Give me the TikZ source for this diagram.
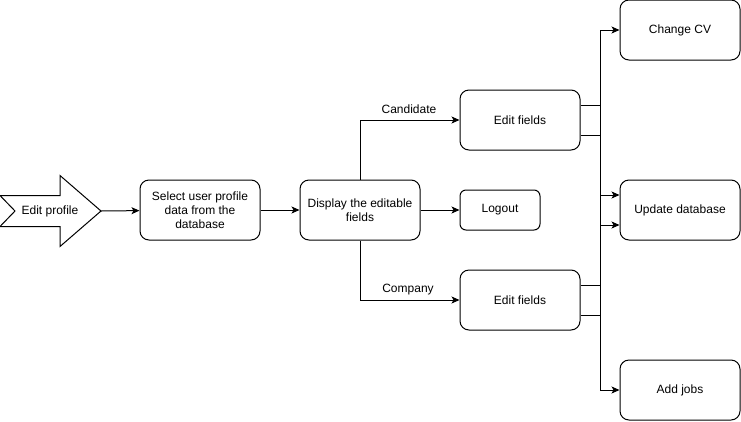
\documentclass[tikz,border=0pt]{standalone}
\usepackage{fontspec}
\setmainfont{Liberation Sans}
\usetikzlibrary{arrows.meta}
\begin{document}
\begin{tikzpicture}[x=1pt,y=-1pt,
  box/.style={draw,line width=1pt,rounded corners=9pt,align=center,font=\fontsize{12}{14}\selectfont,inner sep=0pt},
  lbl/.style={font=\fontsize{12}{14}\selectfont,inner sep=0pt},
  conn/.style={line width=1pt,-{Stealth[length=8pt,width=7pt,inset=2pt]}}]
\useasboundingbox (0,0) rectangle (741,421);
% block arrow "Edit profile"
\draw[line width=1pt,line join=miter] (0,195.5) -- (60,195.5) -- (60,175.5) -- (101,211) -- (60,246.5) -- (60,226.5) -- (0,226.5) -- (15,211) -- cycle;
\node[lbl] (ep) at (50,211) {Edit profile};
\coordinate (tip) at (101,211);
\node[box,minimum width=120pt,minimum height=60pt] (sel) at (200,210) {Select user profile\\data from the\\database};
\node[box,minimum width=120pt,minimum height=60pt] (disp) at (360,210) {Display the editable\\fields};
\node[box,minimum width=120pt,minimum height=60pt] (ef1) at (520,120) {Edit fields};
\node[box,minimum width=80pt,minimum height=40pt,rounded corners=6pt] (lo) at (500,210) {Logout};
\node[box,minimum width=120pt,minimum height=60pt] (ef2) at (520,300) {Edit fields};
\node[box,minimum width=120pt,minimum height=60pt] (cv) at (680,30) {Change CV};
\node[box,minimum width=120pt,minimum height=60pt] (db) at (680,210) {Update database};
\node[box,minimum width=120pt,minimum height=60pt] (aj) at (680,390) {Add jobs};
\draw[conn] (tip) -- (sel);
\draw[conn] (sel) -- (disp);
\draw[conn] (disp.north) |- (ef1.west);
\node[lbl] (cand) at (409,109) {Candidate};
\draw[conn] (disp) -- (lo);
\draw[conn] (disp.south) |- (ef2.west);
\node[lbl] (comp) at (408,290) {Company};
\draw[conn] ([yshift=-15pt]ef1.east) -- ++(20,0) |- (cv.west);
\draw[conn] ([yshift=15pt]ef1.east) -- ++(20,0) |- ([yshift=-15pt]db.west);
\draw[conn] ([yshift=-15pt]ef2.east) -- ++(20,0) |- ([yshift=15pt]db.west);
\draw[conn] ([yshift=15pt]ef2.east) -- ++(20,0) |- (aj.west);
\end{tikzpicture}
\end{document}
